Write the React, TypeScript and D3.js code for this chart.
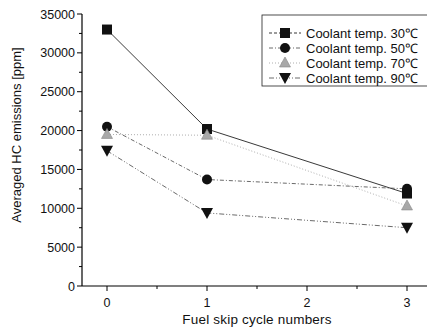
import React from "react";
import * as d3 from "d3";

const cycles = [0, 1, 3];
const series30 = [33000, 20200, 11900];
const series50 = [20500, 13700, 12500];
const series70 = [19500, 19400, 10300];
const series90 = [17400, 9400, 7500];
const seriesNames = ["Coolant temp. 30℃", "Coolant temp. 50℃", "Coolant temp. 70℃", "Coolant temp. 90℃"];
const yTicks = [0, 5000, 10000, 15000, 20000, 25000, 30000, 35000];
const xTicks = [0, 1, 2, 3];

const W = 427, H = 333;
const x = d3.scaleLinear().domain([-0.25, 3.2]).range([82, 427]);
const y = d3.scaleLinear().domain([0, 35000]).range([286, 14]);
const font = "Liberation Sans, Arial, sans-serif";

const styles = [
  { dash: "none", color: "#222", width: 0.9, shape: "square", fill: "#111" },
  { dash: "4 2 1 2", color: "#444", width: 0.8, shape: "circle", fill: "#111" },
  { dash: "1 2", color: "#999", width: 0.8, shape: "up", fill: "#a8a8a8" },
  { dash: "5 2 1 2 1 2", color: "#444", width: 0.8, shape: "down", fill: "#111" },
];

function Marker({ shape, cx, cy, fill }: { shape: string; cx: number; cy: number; fill: string }) {
  if (shape === "square") return <rect x={cx - 5} y={cy - 5} width={10} height={10} fill={fill} />;
  if (shape === "circle") return <circle cx={cx} cy={cy} r={5} fill={fill} />;
  if (shape === "up") return <path d={`M${cx},${cy - 6}L${cx + 5.5},${cy + 4}L${cx - 5.5},${cy + 4}Z`} fill={fill} stroke="#888" strokeWidth={0.6} />;
  return <path d={`M${cx - 6},${cy - 5}L${cx + 6},${cy - 5}L${cx},${cy + 6}Z`} fill={fill} />;
}

export default function App() {
  const all = [series30, series50, series70, series90];
  const line = d3.line<number>().x((_, i) => x(cycles[i])).y((v) => y(v));
  const minorY = d3.range(2500, 35000, 5000);
  const minorX = [0.5, 1.5, 2.5];
  return (
    <svg width={W} height={H} style={{ position: "absolute", left: 0, top: 0, background: "#fff" }} fontFamily={font}>
      <line x1={82} y1={y(35000)} x2={82} y2={286} stroke="#000" strokeWidth={1.2} />
      <line x1={82} y1={286} x2={427} y2={286} stroke="#000" strokeWidth={1.2} />
      {yTicks.map((t) => (
        <g key={t}>
          <line x1={77} x2={82} y1={y(t)} y2={y(t)} stroke="#000" />
          <text x={75} y={y(t) + 4.5} fontSize={12.5} textAnchor="end" fill="#111">{t}</text>
        </g>
      ))}
      {minorY.map((t) => (
        <line key={t} x1={79} x2={82} y1={y(t)} y2={y(t)} stroke="#000" />
      ))}
      {xTicks.map((t) => (
        <g key={t}>
          <line x1={x(t)} x2={x(t)} y1={286} y2={291} stroke="#000" />
          <text x={x(t)} y={307} fontSize={12.5} textAnchor="middle" fill="#111">{t}</text>
        </g>
      ))}
      {minorX.map((t) => (
        <line key={t} x1={x(t)} x2={x(t)} y1={286} y2={289} stroke="#000" />
      ))}
      <text x={257} y={324} fontSize={13.5} letterSpacing={0.2} textAnchor="middle" fill="#111">Fuel skip cycle numbers</text>
      <text transform="translate(21,135) rotate(-90)" fontSize={13} textAnchor="middle" fill="#111">Averaged HC emissions [ppm]</text>
      {all.map((s, i) => (
        <path key={i} d={line(s) || ""} fill="none" stroke={styles[i].color} strokeWidth={styles[i].width} strokeDasharray={styles[i].dash} />
      ))}
      {all.map((s, i) =>
        s.map((v, j) => <Marker key={`${i}-${j}`} shape={styles[i].shape} cx={x(cycles[j])} cy={y(v)} fill={styles[i].fill} />)
      )}
      <rect x={262} y={15} width={170} height={71} fill="#fff" stroke="#222" strokeWidth={0.8} />
      {seriesNames.map((n, i) => {
        const cy = 33 + i * 15;
        return (
          <g key={n}>
            <line x1={269} x2={301} y1={cy} y2={cy} stroke={styles[i].color} strokeWidth={styles[i].width} strokeDasharray={styles[i].dash === "none" ? "3 2" : styles[i].dash} />
            <Marker shape={styles[i].shape} cx={285} cy={cy} fill={styles[i].fill} />
            <text x={306} y={cy + 4.5} fontSize={13} fill="#111">{n}</text>
          </g>
        );
      })}
    </svg>
  );
}
